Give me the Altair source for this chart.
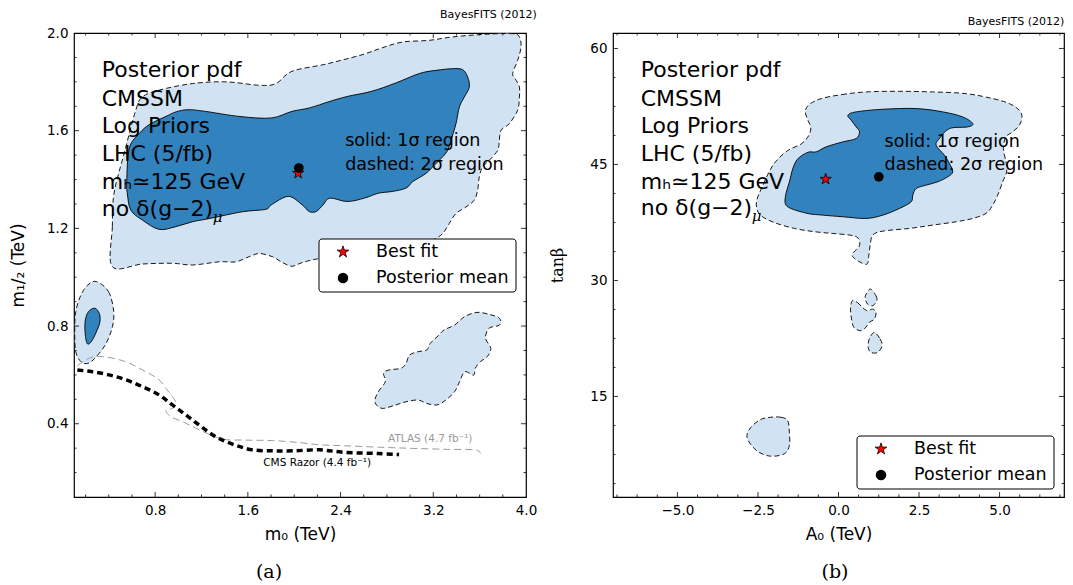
import altair as alt
import pandas as pd

LIGHT = "#d1e2f2"
DARK = "#3182bd"
STAR = ("M0,-1L0.2245,-0.309L0.951,-0.309L0.363,0.118L0.588,0.809L0,0.382"
        "L-0.588,0.809L-0.363,0.118L-0.951,-0.309L-0.2245,-0.309Z")

# ---------------- panel (a): m0 vs m1/2 ----------------
A_LIGHT_MAIN_X = [0.431, 0.431, 0.445, 0.532, 0.633, 0.690, 0.834, 1.122, 1.410, 1.698, 1.842, 1.980,
                  2.249, 2.428, 2.607, 2.756, 2.935, 3.166, 3.367, 3.655, 3.885, 3.943, 3.957, 3.928,
                  3.885, 3.914, 3.943, 3.943, 3.928, 3.856, 3.785, 3.770, 3.756, 3.684, 3.626, 3.597,
                  3.583, 3.554, 3.483, 3.396, 3.338, 3.281, 3.194, 3.000, 2.726, 2.428, 2.200, 2.070,
                  1.980, 1.900, 1.812, 1.698, 1.611, 1.496, 1.352, 1.122, 0.949, 0.690]
A_LIGHT_MAIN_Y = [1.043, 1.207, 1.343, 1.506, 1.684, 1.738, 1.766, 1.793, 1.800, 1.786, 1.793, 1.843,
                  1.870, 1.891, 1.914, 1.939, 1.963, 1.970, 1.984, 1.995, 1.997, 1.984, 1.943, 1.888,
                  1.834, 1.807, 1.779, 1.738, 1.684, 1.629, 1.602, 1.561, 1.520, 1.479, 1.452, 1.411,
                  1.357, 1.316, 1.288, 1.261, 1.220, 1.179, 1.152, 1.120, 1.100, 1.090, 1.075, 1.060,
                  1.045, 1.060, 1.084, 1.097, 1.084, 1.063, 1.063, 1.050, 1.057, 1.054]
A_DARK_MAIN_X = [0.555, 0.577, 0.667, 0.750, 0.900, 0.980, 1.085, 1.234, 1.532, 1.801, 1.980, 2.129,
                 2.308, 2.457, 2.666, 2.875, 3.079, 3.223, 3.367, 3.453, 3.496, 3.511, 3.468, 3.425,
                 3.396, 3.353, 3.324, 3.281, 3.209, 3.137, 3.024, 2.965, 2.845, 2.726, 2.607, 2.457,
                 2.308, 2.249, 2.189, 2.129, 2.070, 1.950, 1.801, 1.755, 1.553, 1.266, 1.122, 0.978,
                 0.834, 0.690, 0.590, 0.560]
A_DARK_MAIN_Y = [1.392, 1.529, 1.590, 1.625, 1.660, 1.677, 1.686, 1.679, 1.658, 1.652, 1.679, 1.693,
                 1.720, 1.740, 1.761, 1.795, 1.834, 1.847, 1.854, 1.850, 1.820, 1.779, 1.738, 1.697,
                 1.629, 1.561, 1.520, 1.493, 1.459, 1.425, 1.392, 1.365, 1.351, 1.344, 1.324, 1.310,
                 1.324, 1.296, 1.269, 1.269, 1.296, 1.331, 1.296, 1.278, 1.268, 1.240, 1.227, 1.207,
                 1.196, 1.234, 1.275, 1.343]
A_LIGHT_SMALL_X = [0.294, 0.398, 0.443, 0.428, 0.369, 0.279, 0.219, 0.160, 0.115, 0.106, 0.115, 0.160, 0.219]
A_LIGHT_SMALL_Y = [0.982, 0.941, 0.859, 0.791, 0.722, 0.668, 0.647, 0.654, 0.695, 0.777, 0.859, 0.927, 0.968]
A_DARK_SMALL_X = [0.279, 0.318, 0.324, 0.294, 0.249, 0.213, 0.195, 0.198, 0.225]
A_DARK_SMALL_Y = [0.873, 0.852, 0.818, 0.777, 0.736, 0.729, 0.777, 0.825, 0.859]
A_LIGHT_BR_X = [2.696, 2.726, 2.786, 2.771, 2.816, 2.920, 2.965, 2.995, 3.069, 3.144, 3.174, 3.248,
                3.293, 3.383, 3.472, 3.577, 3.681, 3.771, 3.771, 3.681, 3.651, 3.696, 3.666, 3.606,
                3.562, 3.547, 3.472, 3.427, 3.383, 3.308, 3.233, 3.144, 3.069, 2.965, 2.875, 2.756]
A_LIGHT_BR_Y = [0.490, 0.531, 0.572, 0.606, 0.620, 0.627, 0.647, 0.681, 0.695, 0.702, 0.729, 0.763,
                0.784, 0.804, 0.839, 0.856, 0.848, 0.832, 0.804, 0.791, 0.750, 0.709, 0.675, 0.654,
                0.627, 0.599, 0.613, 0.572, 0.531, 0.497, 0.477, 0.483, 0.497, 0.490, 0.477, 0.463]
CMS_X = [0.129, 0.258, 0.402, 0.546, 0.690, 0.834, 0.949, 1.065, 1.179, 1.294, 1.410, 1.525, 1.640,
         1.812, 1.985, 2.216, 2.428, 2.726, 2.905]
CMS_Y = [0.620, 0.613, 0.600, 0.580, 0.552, 0.518, 0.477, 0.436, 0.395, 0.355, 0.327, 0.307, 0.293,
         0.289, 0.289, 0.293, 0.283, 0.278, 0.274]
ATLAS_X = [0.129, 0.244, 0.344, 0.546, 0.719, 0.834, 0.892, 0.949, 0.983, 0.949, 0.892, 0.935, 1.035,
           1.151, 1.266, 1.381, 1.583, 1.812, 2.043, 2.216, 2.428, 2.726, 3.024, 3.323, 3.592, 3.606]
ATLAS_Y = [0.638, 0.671, 0.675, 0.654, 0.613, 0.580, 0.545, 0.511, 0.480, 0.463, 0.454, 0.429, 0.409,
           0.382, 0.357, 0.337, 0.333, 0.331, 0.323, 0.314, 0.310, 0.304, 0.299, 0.295, 0.289, 0.278]
A_PT_LABEL = ["Best fit", "Posterior mean"]
A_PT_X = [2.034, 2.040]
A_PT_Y = [1.426, 1.447]
A_NOTE = ["Posterior pdf", "CMSSM", "Log Priors", "LHC (5/fb)", "mₕ≃125 GeV", "no δ(g−2)"]
A_NOTE_X = [0.339] * 6
A_NOTE_Y = [1.847, 1.731, 1.618, 1.506, 1.391, 1.281]
A_REGION = ["solid: 1σ region", "dashed: 2σ region"]
A_REGION_X = [2.44, 2.44]
A_REGION_Y = [1.556, 1.460]
A_XT_MAJOR = [0.8, 1.6, 2.4, 3.2]
A_XT_MINOR = [0.2, 0.4, 0.6, 1.0, 1.2, 1.4, 1.8, 2.0, 2.2, 2.6, 2.8, 3.0, 3.4, 3.6, 3.8]
A_YT_MAJOR = [0.4, 0.8, 1.2, 1.6]
A_YT_MINOR = [0.2, 0.3, 0.5, 0.6, 0.7, 0.9, 1.0, 1.1, 1.3, 1.4, 1.5, 1.7, 1.8, 1.9]

# ---------------- panel (b): A0 vs tan(beta) ----------------
B_LIGHT_MAIN_X = [-0.523, 0.110, 0.857, 1.892, 2.926, 3.959, 4.786, 5.303, 5.613, 5.696, 5.613, 5.406,
                  5.200, 5.117, 5.200, 5.220, 5.097, 4.942, 4.786, 4.580, 4.166, 3.650, 2.926, 2.203,
                  1.376, 1.066, 0.983, 0.942, 0.859, 0.425, 0.652, 0.600, 0.342, -0.175, -0.734,
                  -1.367, -2.000, -2.422, -2.549, -2.506, -2.369, -2.158, -1.947, -1.578, -1.156,
                  -0.924, -0.861, -0.966, -1.030, -0.892]
B_LIGHT_MAIN_Y = [53.53, 54.04, 54.38, 54.46, 54.38, 54.16, 53.52, 52.87, 52.01, 51.15, 50.07, 49.21,
                  48.57, 47.06, 45.34, 44.05, 42.76, 41.03, 39.74, 38.67, 38.02, 37.59, 37.16, 36.73,
                  36.38, 35.87, 34.58, 33.29, 32.08, 33.20, 34.49, 35.52, 35.87, 36.08, 36.30,
                  36.73, 37.50, 38.44, 39.64, 40.80, 42.08, 44.01, 45.38, 46.80, 47.66,
                  48.73, 49.80, 50.87, 51.94, 52.80]
B_DARK_MAIN_X = [0.291, 0.548, 1.376, 2.410, 3.237, 3.856, 4.166, 4.011, 3.443, 3.133, 3.030, 3.288,
                 3.443, 3.546, 3.391, 3.081, 2.720, 2.410, 2.306, 2.255, 1.893, 1.376, 0.859, 0.135,
                 -0.485, -0.945, -1.473, -1.652, -1.631, -1.525, -1.420, -1.262, -0.945, -0.691,
                 -0.381, 0.135, 0.548, 0.652, 0.548, 0.394]
B_DARK_MAIN_Y = [51.37, 51.80, 52.14, 52.23, 51.80, 51.15, 50.29, 49.86, 49.64, 48.35, 47.49, 46.20,
                 45.12, 44.05, 43.40, 42.76, 42.33, 41.89, 41.03, 40.17, 39.31, 38.45, 38.02, 38.24,
                 38.45, 38.65, 39.30, 39.94, 41.23, 42.73, 44.44, 45.73, 46.58, 46.63,
                 47.28, 47.92, 48.35, 49.21, 49.86, 50.72]
B_BLOB1_X = [1.006, 1.165, 1.186, 1.059, 0.901, 0.827, 0.901]
B_BLOB1_Y = [28.88, 28.02, 27.37, 26.73, 26.94, 27.80, 28.54]
B_BLOB2_X = [0.426, 0.584, 0.743, 0.901, 1.059, 1.165, 1.112, 0.954, 0.848, 0.690, 0.479, 0.405, 0.373]
B_BLOB2_Y = [27.37, 27.16, 26.51, 26.08, 26.30, 25.87, 25.01, 24.58, 23.93, 23.50, 23.93, 25.01, 26.30]
B_BLOB3_X = [1.112, 1.291, 1.354, 1.217, 1.006, 0.922, 0.954]
B_BLOB3_Y = [23.29, 22.43, 21.56, 20.70, 20.70, 21.35, 22.43]
B_BLOB4_X = [-2.105, -1.789, -1.578, -1.525, -1.525, -1.684, -2.105, -2.475, -2.738, -2.844, -2.717, -2.422]
B_BLOB4_Y = [12.31, 12.31, 11.88, 10.38, 8.66, 7.58, 7.28, 7.80, 8.87, 9.95, 11.02, 12.01]
B_PT_LABEL = ["Best fit", "Posterior mean"]
B_PT_X = [-0.40, 1.25]
B_PT_Y = [43.10, 43.40]
B_NOTE = ["Posterior pdf", "CMSSM", "Log Priors", "LHC (5/fb)", "mₕ≃125 GeV", "no δ(g−2)"]
B_NOTE_X = [-6.14] * 6
B_NOTE_Y = [57.18, 53.51, 49.95, 46.41, 42.75, 39.31]
B_REGION = ["solid: 1σ region", "dashed: 2σ region"]
B_REGION_X = [1.43, 1.43]
B_REGION_Y = [47.92, 44.99]
B_XT_MAJOR = [-5, -2.5, 0, 2.5, 5]
B_XT_MINOR = [-6.875, -6.25, -5.625, -4.375, -3.75, -3.125, -1.875, -1.25, -0.625,
              0.625, 1.25, 1.875, 3.125, 3.75, 4.375, 5.625, 6.25, 6.875]
B_YT_MAJOR = [15, 30, 45, 60]
B_YT_MINOR = [3.75, 7.5, 11.25, 18.75, 22.5, 26.25, 33.75, 37.5, 41.25, 48.75, 52.5, 56.25]

LEGEND_LABELS = ["Best fit", "Posterior mean"]
FONT = "DejaVu Sans"


def polys(pairs):
    rows = []
    for pid, (xs, ys) in enumerate(pairs):
        for i, (x, y) in enumerate(zip(xs, ys)):
            rows.append({"pid": pid, "i": i, "x": x, "y": y})
    return pd.DataFrame(rows)


def line_df(xs, ys):
    return pd.DataFrame({"i": range(len(xs)), "x": xs, "y": ys})


def legend_layers(lx, ly):
    one = pd.DataFrame({"k": [0]})
    out = [alt.Chart(one).mark_rect(fill="white", stroke="black", strokeWidth=1, cornerRadius=3).encode(
        x=alt.value(lx), x2=alt.value(lx + 197), y=alt.value(ly), y2=alt.value(ly + 53))]
    out.append(alt.Chart(one).mark_point(shape=STAR, size=150, filled=True, fill="red", stroke="black",
                                         strokeWidth=0.8, opacity=1).encode(
        x=alt.value(lx + 24), y=alt.value(ly + 13)))
    out.append(alt.Chart(one).mark_point(shape="circle", size=110, filled=True, fill="black",
                                         opacity=1).encode(x=alt.value(lx + 24), y=alt.value(ly + 39)))
    ldf = pd.DataFrame({"t": LEGEND_LABELS, "r": [0, 1]})
    for r in (0, 1):
        out.append(alt.Chart(ldf[ldf.r == r]).mark_text(
            align="left", baseline="middle", fontSize=17.5, font=FONT, color="black"
        ).encode(text="t:N", x=alt.value(lx + 57), y=alt.value(ly + 13 + 26 * r)))
    return out


def panel(W, H, xenc, yenc, light, dark, extra, pts, note, region, ticks, legend_xy, caption, cap_x):
    layers = []
    layers.append(alt.Chart(polys(light)).mark_line(
        fill=LIGHT, stroke="black", strokeWidth=0.9, strokeDash=[5, 3],
        interpolate="cardinal-closed", clip=True
    ).encode(x=xenc, y=yenc, detail="pid:N", order="i:Q"))
    layers.append(alt.Chart(polys(dark)).mark_line(
        fill=DARK, stroke="black", strokeWidth=0.9,
        interpolate="cardinal-closed", clip=True
    ).encode(x=xenc, y=yenc, detail="pid:N", order="i:Q"))
    layers.extend(extra)
    # inward ticks on all four sides
    xmaj, xmin, ymaj, ymin = ticks
    for vals, L in [(xmaj, 5), (xmin, 2.5)]:
        base = alt.Chart(pd.DataFrame({"x": vals})).mark_rule(color="black", strokeWidth=0.8)
        layers.append(base.encode(x=xenc, y=alt.value(H), y2=alt.value(H - L)))
        layers.append(base.encode(x=xenc, y=alt.value(0), y2=alt.value(L)))
    for vals, L in [(ymaj, 5), (ymin, 2.5)]:
        base = alt.Chart(pd.DataFrame({"y": vals})).mark_rule(color="black", strokeWidth=0.8)
        layers.append(base.encode(y=yenc, x=alt.value(0), x2=alt.value(L)))
        layers.append(base.encode(y=yenc, x=alt.value(W), x2=alt.value(W - L)))
    # annotations
    ndf = pd.DataFrame({"x": note[0], "y": note[1], "t": note[2]})
    layers.append(alt.Chart(ndf).mark_text(align="left", baseline="middle", fontSize=22, font=FONT,
                                           color="black").encode(x=xenc, y=yenc, text="t:N"))
    mu = ndf.tail(1)
    layers.append(alt.Chart(mu).mark_text(align="left", baseline="middle", fontSize=15, font="DejaVu Serif",
                                          fontStyle="italic", dx=111, dy=8, color="black", text="μ"
                                          ).encode(x=xenc, y=yenc))
    rdf = pd.DataFrame({"x": region[0], "y": region[1], "t": region[2]})
    layers.append(alt.Chart(rdf).mark_text(align="left", baseline="middle", fontSize=17.5, font=FONT,
                                           color="black").encode(x=xenc, y=yenc, text="t:N"))
    # best fit (star) and posterior mean (circle)
    pdf = pd.DataFrame({"x": pts[0], "y": pts[1], "label": pts[2]})
    layers.append(alt.Chart(pdf[pdf.label == "Best fit"]).mark_point(
        shape=STAR, size=140, filled=True, fill="red", stroke="black", strokeWidth=0.8, opacity=1
    ).encode(x=xenc, y=yenc))
    layers.append(alt.Chart(pdf[pdf.label == "Posterior mean"]).mark_point(
        shape="circle", size=95, filled=True, fill="black", opacity=1
    ).encode(x=xenc, y=yenc))
    layers.extend(legend_layers(*legend_xy))
    layers.append(alt.Chart(pd.DataFrame({"t": [caption]})).mark_text(
        font="DejaVu Serif", fontSize=19, color="black", align="center", baseline="middle"
    ).encode(text="t:N", x=alt.value(cap_x), y=alt.value(539)))
    return alt.layer(*layers).properties(
        width=W, height=H,
        title=alt.Title("BayesFITS (2012)", anchor="end", fontSize=11, font=FONT, fontWeight="normal",
                        color="black", offset=6))


# ---- panel (a)
WA, HA = 452, 464
xa = alt.X("x:Q", scale=alt.Scale(domain=[0.1, 4.0], nice=False, zero=False),
           axis=alt.Axis(values=[0.8, 1.6, 2.4, 3.2, 4.0], format=".1f", title="m₀ (TeV)",
                         titlePadding=10))
ya = alt.Y("y:Q", scale=alt.Scale(domain=[0.1, 2.0], nice=False, zero=False),
           axis=alt.Axis(values=[0.4, 0.8, 1.2, 1.6, 2.0], format=".1f", title="m₁/₂ (TeV)",
                         titlePadding=19))
cms = alt.Chart(line_df(CMS_X, CMS_Y)).mark_line(color="black", strokeWidth=3.5, strokeDash=[6, 4],
                                                 interpolate="catmull-rom").encode(x=xa, y=ya, order="i:Q")
atlas = alt.Chart(line_df(ATLAS_X, ATLAS_Y)).mark_line(color="#9a9a9a", strokeWidth=1, strokeDash=[7, 4],
                                                       interpolate="catmull-rom").encode(x=xa, y=ya, order="i:Q")
lab_atlas = alt.Chart(pd.DataFrame({"x": [3.174], "y": [0.339], "t": ["ATLAS (4.7 fb⁻¹)"]})).mark_text(
    fontSize=10.5, font=FONT, baseline="middle", color="#9a9a9a").encode(x=xa, y=ya, text="t:N")
lab_cms = alt.Chart(pd.DataFrame({"x": [2.198], "y": [0.241], "t": ["CMS Razor (4.4 fb⁻¹)"]})).mark_text(
    fontSize=10.5, font=FONT, baseline="middle", color="black").encode(x=xa, y=ya, text="t:N")
left = panel(WA, HA, xa, ya,
             [(A_LIGHT_MAIN_X, A_LIGHT_MAIN_Y), (A_LIGHT_SMALL_X, A_LIGHT_SMALL_Y), (A_LIGHT_BR_X, A_LIGHT_BR_Y)],
             [(A_DARK_MAIN_X, A_DARK_MAIN_Y), (A_DARK_SMALL_X, A_DARK_SMALL_Y)],
             [atlas, cms, lab_atlas, lab_cms],
             (A_PT_X, A_PT_Y, A_PT_LABEL), (A_NOTE_X, A_NOTE_Y, A_NOTE), (A_REGION_X, A_REGION_Y, A_REGION),
             (A_XT_MAJOR, A_XT_MINOR, A_YT_MAJOR, A_YT_MINOR), (245, 206), "(a)", 195)

# ---- panel (b)
WB, HB = 451, 464
xb = alt.X("x:Q", scale=alt.Scale(domain=[-7, 7], nice=False, zero=False),
           axis=alt.Axis(values=[-5, -2.5, 0, 2.5, 5], format=".1f", title="A₀ (TeV)", titlePadding=10))
yb = alt.Y("y:Q", scale=alt.Scale(domain=[2, 62], nice=False, zero=False),
           axis=alt.Axis(values=[15, 30, 45, 60], format="d", title="tanβ", titleFont="DejaVu Serif",
                         titleFontSize=16, titlePadding=24))
right = panel(WB, HB, xb, yb,
              [(B_LIGHT_MAIN_X, B_LIGHT_MAIN_Y), (B_BLOB1_X, B_BLOB1_Y), (B_BLOB2_X, B_BLOB2_Y),
               (B_BLOB3_X, B_BLOB3_Y), (B_BLOB4_X, B_BLOB4_Y)],
              [(B_DARK_MAIN_X, B_DARK_MAIN_Y)],
              [],
              (B_PT_X, B_PT_Y, B_PT_LABEL), (B_NOTE_X, B_NOTE_Y, B_NOTE), (B_REGION_X, B_REGION_Y, B_REGION),
              (B_XT_MAJOR, B_XT_MINOR, B_YT_MAJOR, B_YT_MINOR), (244, 403), "(b)", 222)

chart = alt.hconcat(left, right, spacing=11).properties(
    padding={"left": 8, "top": 8, "right": 0, "bottom": 0}, background="white"
).configure_view(stroke="black", strokeWidth=1.2).configure_axis(
    labelFont=FONT, labelFontSize=13.5, labelColor="black", labelPadding=6, labelFlush=False,
    titleFont=FONT, titleFontSize=17, titleFontWeight="normal", titleColor="black",
    ticks=False, domain=False, grid=False
)

chart.save("out.html", embed_options={"renderer": "svg", "actions": False})
